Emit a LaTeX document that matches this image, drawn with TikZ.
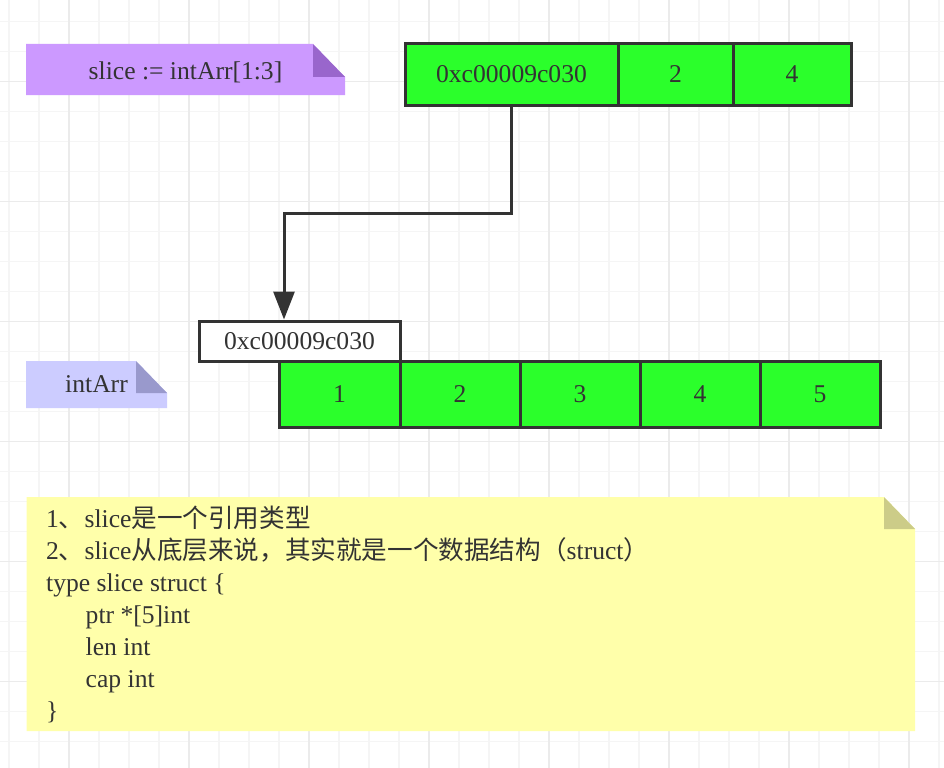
\documentclass[tikz,border=0pt]{standalone}
\usepackage{fontspec}
\setmainfont{Liberation Serif}
\newfontfamily\cjk{Noto Sans CJK SC}
\usetikzlibrary{arrows.meta}
\definecolor{gridminor}{HTML}{F5F5F5}
\definecolor{gridmajor}{HTML}{EBEBEB}
\definecolor{dark}{HTML}{333333}
\definecolor{txt}{HTML}{333333}
\definecolor{cellgreen}{HTML}{2BFF2B}
\definecolor{purplenote}{HTML}{CC99FF}
\definecolor{purplefold}{HTML}{9966CC}
\definecolor{bluenote}{HTML}{CCCCFF}
\definecolor{bluefold}{HTML}{9999CC}
\definecolor{yellownote}{HTML}{FFFFAA}
\definecolor{yellowfold}{HTML}{CCCC88}
\newcommand{\fs}{\fontsize{25.6bp}{32bp}\selectfont}
\begin{document}
\begin{tikzpicture}[x=1bp,y=-1bp,
  cell/.style={draw=dark, fill=cellgreen, line width=3bp, minimum height=61bp, inner sep=0pt, text=txt, font=\fs},
  ptrbox/.style={draw=dark, fill=white, line width=3bp, minimum width=201bp, minimum height=40bp, inner sep=0pt, text=txt, font=\fs},
  notetext/.style={inner sep=0pt, text=txt, font=\fs},
  conn/.style={draw=dark, line width=3bp, -{Triangle[length=28bp,width=21bp]}}
]
\useasboundingbox (0,0) rectangle (944,768);
\fill[white] (0,0) rectangle (944,768);
% grid
\foreach \i in {0,...,31} { \draw[gridminor, line width=1.2bp] (9+30*\i,0) -- (9+30*\i,768); }
\foreach \i in {0,...,25} { \draw[gridminor, line width=1.2bp] (0,21.7+30*\i) -- (944,21.7+30*\i); }
\foreach \i in {0,...,7} { \draw[gridmajor, line width=1.4bp] (69+120*\i,0) -- (69+120*\i,768); }
\foreach \i in {0,...,5} { \draw[gridmajor, line width=1.4bp] (0,81.7+120*\i) -- (944,81.7+120*\i); }

% purple note
\fill[purplenote] (26,44) -- (313,44) -- (345,77) -- (345,95) -- (26,95) -- cycle;
\fill[purplefold] (313,44) -- (313,77) -- (345,77) -- cycle;
\node[notetext, anchor=base] (n1) at (185.5,79.3) {slice := intArr[1:3]};

% intArr note
\fill[bluenote] (26,361) -- (136,361) -- (167,393) -- (167,408) -- (26,408) -- cycle;
\fill[bluefold] (136,361) -- (136,393) -- (167,393) -- cycle;
\node[notetext, anchor=base] (n2) at (96.5,392.7) {intArr};

% yellow note
\fill[yellownote] (26.5,497) -- (884,497) -- (915,529) -- (915,731) -- (26.5,731) -- cycle;
\fill[yellowfold] (884,497) -- (884,529) -- (915,529) -- cycle;
\node[notetext, anchor=base west] (l1) at (46,527) {1{\cjk 、}slice{\cjk 是一个引用类型}};
\node[notetext, anchor=base west] (l2) at (46,559) {2{\cjk 、}slice{\cjk 从底层来说，其实就是一个数据结构（}struct{\cjk ）}};
\node[notetext, anchor=base west] (l3) at (46,591) {type slice struct \{};
\node[notetext, anchor=base west] (l4) at (85.5,623) {ptr *[5]int};
\node[notetext, anchor=base west] (l5) at (85.5,655) {len int};
\node[notetext, anchor=base west] (l6) at (85.5,687) {cap int};
\node[notetext, anchor=base west] (l7) at (46,719) {\}};

% top slice array
\node[cell, minimum width=213bp] (t1) at (511.5,74.5) {0xc00009c030};
\node[cell, minimum width=115bp] (t2) at (675.5,74.5) {2};
\node[cell, minimum width=118bp] (t3) at (792,74.5) {4};

% bottom array
\node[cell, minimum width=121bp, minimum height=66bp] (a1) at (339.5,394) {1};
\node[cell, minimum width=120bp, minimum height=66bp] (a2) at (460,394) {2};
\node[cell, minimum width=120bp, minimum height=66bp] (a3) at (580,394) {3};
\node[cell, minimum width=120bp, minimum height=66bp] (a4) at (700,394) {4};
\node[cell, minimum width=120bp, minimum height=66bp] (a5) at (820,394) {5};

% pointer box
\node[ptrbox] (p) at (299.5,341) {0xc00009c030};

% connector
\coordinate (bend) at (284,213);
\draw[conn] (t1.south) |- (bend) -- (bend |- p.north);
\end{tikzpicture}
\end{document}
